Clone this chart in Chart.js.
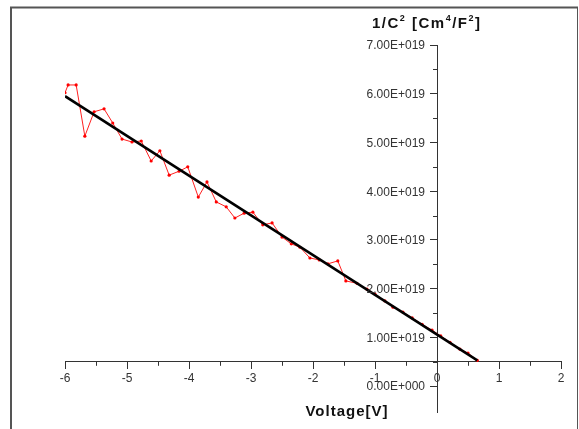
<!DOCTYPE html>
<html>
<head>
<meta charset="utf-8">
<script src="https://cdn.jsdelivr.net/npm/chart.js@4.4.1/dist/chart.umd.min.js"></script>
<style>
  html, body { margin: 0; padding: 0; background: #fff; }
  #wrap { width: 579px; height: 429px; }
</style>
</head>
<body>
<div id="wrap"><canvas id="c" width="579" height="429"></canvas></div>
<script>
// measured points (V, 1/C^2)
const voltage = [-6.00, -5.95, -5.82, -5.68, -5.53, -5.37, -5.23, -5.08, -4.92, -4.77,
                 -4.61, -4.47, -4.32, -4.16, -4.02, -3.85, -3.71, -3.56, -3.40, -3.26,
                 -3.11, -2.97, -2.81, -2.66, -2.50, -2.35, -2.21, -2.05, -1.90, -1.76,
                 -1.60, -1.47, -1.29, -1.13, -1.00, -0.84, -0.71, -0.55, -0.40, -0.24,
                 -0.08, 0.06, 0.21, 0.37, 0.50, 0.65];
const invC2 = [6.02e19, 6.18e19, 6.18e19, 5.13e19, 5.63e19, 5.69e19, 5.40e19, 5.07e19, 5.01e19, 5.03e19,
               4.62e19, 4.83e19, 4.33e19, 4.41e19, 4.50e19, 3.88e19, 4.19e19, 3.78e19, 3.68e19, 3.45e19,
               3.55e19, 3.57e19, 3.31e19, 3.35e19, 3.06e19, 2.92e19, 2.85e19, 2.63e19, 2.59e19, 2.51e19,
               2.57e19, 2.16e19, 2.11e19, 1.99e19, 1.89e19, 1.75e19, 1.62e19, 1.52e19, 1.40e19, 1.27e19,
               1.15e19, 1.03e19, 0.90e19, 0.76e19, 0.68e19, 0.53e19];

// linear fit
const fitVoltage = [-6.00, 0.65];
const fitInvC2 = [5.95e19, 0.53e19];

const xTicks = [-6, -5, -4, -3, -2, -1, 0, 1, 2];
const yTicks = [0, 1e19, 2e19, 3e19, 4e19, 5e19, 6e19, 7e19];
const yTickLabels = ['0.00E+000', '1.00E+019', '2.00E+019', '3.00E+019',
                     '4.00E+019', '5.00E+019', '6.00E+019', '7.00E+019'];

const axisColor = '#333';
const fontFamily = 'Liberation Sans, Arial, sans-serif';
const tickFont = { family: fontFamily, size: 12 };

const decorations = {
  id: 'decorations',
  afterDraw(chart) {
    const ctx = chart.ctx;
    const xs = chart.scales.x, ys = chart.scales.y;
    const xAxisY = ys.getPixelForValue(0.5e19);
    const yAxisX = xs.getPixelForValue(0);
    ctx.save();
    // minor ticks
    ctx.strokeStyle = axisColor;
    ctx.lineWidth = 1;
    ctx.beginPath();
    for (let v = -5.5; v < 2; v += 1) {
      const px = Math.round(xs.getPixelForValue(v)) + 0.5;
      ctx.moveTo(px, xAxisY);
      ctx.lineTo(px, xAxisY + 4);
    }
    for (let v = 0.5e19; v < 7e19; v += 1e19) {
      const py = Math.round(ys.getPixelForValue(v)) + 0.5;
      ctx.moveTo(yAxisX, py);
      ctx.lineTo(yAxisX - 4, py);
    }
    ctx.stroke();

    // y tick labels, left of the axis
    ctx.fillStyle = '#333';
    ctx.font = '12px ' + fontFamily;
    ctx.textAlign = 'right';
    ctx.textBaseline = 'middle';
    yTicks.forEach((v, i) => {
      ctx.fillText(yTickLabels[i], yAxisX - 12, ys.getPixelForValue(v) + 1);
    });

    // frame
    ctx.strokeStyle = '#555';
    ctx.lineWidth = 2;
    ctx.beginPath();
    ctx.moveTo(11, 429);
    ctx.lineTo(11, 7.5);
    ctx.lineTo(578, 7.5);
    ctx.stroke();
    ctx.lineWidth = 1;
    ctx.beginPath();
    ctx.moveTo(577.5, 7.5);
    ctx.lineTo(577.5, 429);
    ctx.stroke();

    // axis titles
    ctx.fillStyle = '#111';
    ctx.textBaseline = 'alphabetic';
    ctx.textAlign = 'left';
    const big = 'bold 15px ' + fontFamily;
    const sup = 'bold 9px ' + fontFamily;
    ctx.letterSpacing = '1.5px';
    const parts = [['1/C', big, 0], ['2', sup, -7], [' [Cm', big, 0], ['4', sup, -7],
                   ['/F', big, 0], ['2', sup, -7], [']', big, 0]];
    let tx = 372;
    const ty = 28;
    for (const [t, f, dy] of parts) {
      ctx.font = f;
      ctx.fillText(t, tx, ty + dy);
      tx += ctx.measureText(t).width;
    }
    ctx.font = 'bold 15px ' + fontFamily;
    ctx.letterSpacing = '1px';
    ctx.textAlign = 'center';
    ctx.fillText('Voltage[V]', 347, 416);
    ctx.restore();
  }
};

new Chart(document.getElementById('c').getContext('2d'), {
  type: 'scatter',
  data: {
    datasets: [{
      label: 'data',
      data: voltage.map((v, i) => ({ x: v, y: invC2[i] })),
      showLine: true,
      borderColor: '#ff2020',
      backgroundColor: '#ff0000',
      borderWidth: 1,
      pointRadius: 1.6,
      pointBorderWidth: 0,
      order: 2
    }, {
      label: 'fit',
      data: fitVoltage.map((v, i) => ({ x: v, y: fitInvC2[i] })),
      showLine: true,
      borderColor: '#000',
      borderWidth: 2.5,
      pointRadius: 0,
      order: 1
    }]
  },
  options: {
    responsive: false,
    animation: false,
    devicePixelRatio: 1,
    layout: { padding: { left: 65, right: 18, top: 45, bottom: 17 } },
    plugins: { legend: { display: false }, tooltip: { enabled: false } },
    scales: {
      x: {
        type: 'linear',
        min: -6, max: 2,
        position: { y: 0.5e19 },
        afterBuildTicks: s => { s.ticks = xTicks.map(v => ({ value: v })); },
        ticks: { font: tickFont, color: '#333', padding: 3, maxRotation: 0 },
        grid: { drawOnChartArea: false, tickLength: 7, color: axisColor },
        border: { color: axisColor, width: 1 }
      },
      y: {
        type: 'linear',
        min: -0.53e19, max: 7e19,
        position: { x: 0 },
        afterBuildTicks: s => { s.ticks = yTicks.map(v => ({ value: v })); },
        ticks: { display: false },
        grid: { drawOnChartArea: false, tickLength: 7, color: axisColor },
        border: { color: axisColor, width: 1 }
      }
    }
  },
  plugins: [decorations]
});
</script>
</body>
</html>
